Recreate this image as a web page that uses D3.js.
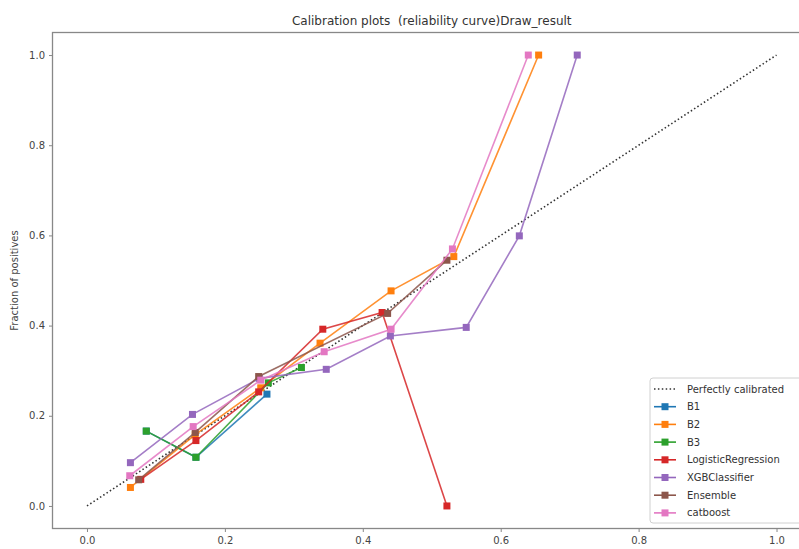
<!DOCTYPE html>
<html><head><meta charset="utf-8">
<script src="https://cdn.jsdelivr.net/npm/d3@7"></script>
<style>body{margin:0;background:#fff}svg{display:block;font-family:"DejaVu Sans",sans-serif}</style>
</head><body><svg id="c" width="799" height="549"></svg>
<script>
const title = "Calibration plots  (reliability curve)Draw_result";
const yLabel = "Fraction of positives";
const xTicks = [0.0, 0.2, 0.4, 0.6, 0.8, 1.0];
const yTicks = [0.0, 0.2, 0.4, 0.6, 0.8, 1.0];
const seriesNames = ["B1","B2","B3","LogisticRegression","XGBClassifier","Ensemble","catboost"];
const seriesColors = ["#1f77b4","#ff7f0e","#2ca02c","#d62728","#9467bd","#8c564b","#e377c2"];
const perfectX = [0, 1];
const perfectY = [0, 1];
const b1X = [0.086, 0.158, 0.261];
const b1Y = [0.166, 0.108, 0.248];
const b2X = [0.063, 0.157, 0.252, 0.338, 0.441, 0.532, 0.655];
const b2Y = [0.041, 0.158, 0.262, 0.361, 0.477, 0.553, 1.0];
const b3X = [0.086, 0.158, 0.263, 0.311];
const b3Y = [0.166, 0.108, 0.273, 0.307];
const lrX = [0.078, 0.158, 0.249, 0.342, 0.428, 0.522];
const lrY = [0.059, 0.145, 0.253, 0.392, 0.429, 0.0];
const xgbX = [0.063, 0.153, 0.250, 0.347, 0.440, 0.550, 0.627, 0.711];
const xgbY = [0.096, 0.203, 0.283, 0.303, 0.377, 0.396, 0.599, 1.0];
const ensX = [0.075, 0.157, 0.249, 0.436, 0.522];
const ensY = [0.058, 0.163, 0.287, 0.427, 0.545];
const catX = [0.062, 0.154, 0.252, 0.344, 0.441, 0.530, 0.640];
const catY = [0.067, 0.176, 0.279, 0.342, 0.392, 0.570, 1.0];
const allX = [b1X,b2X,b3X,lrX,xgbX,ensX,catX];
const allY = [b1Y,b2Y,b3Y,lrY,xgbY,ensY,catY];

const svg = d3.select("#c");
const L = 52.5, R = 811, T = 32.5, B = 528.5;
const x = d3.scaleLinear().domain([-0.05, 1.05]).range([L, R]);
const y = d3.scaleLinear().domain([-0.05, 1.05]).range([B, T]);
const txt = "#444", spine = "#888";

const line = d3.line().x(d=>x(d[0])).y(d=>y(d[1]));
svg.append("path").attr("d", line(d3.zip(perfectX, perfectY)))
  .attr("fill","none").attr("stroke","#333").attr("stroke-width",1.6)
  .attr("stroke-dasharray","1.5,2.4");

seriesNames.forEach((n,i)=>{
  const pts = d3.zip(allX[i], allY[i]);
  const g = svg.append("g");
  g.append("path").attr("d", line(pts)).attr("fill","none")
    .attr("stroke", seriesColors[i]).attr("stroke-width",1.6).attr("opacity",0.85);
  g.selectAll("rect").data(pts).join("rect")
    .attr("x", d=>x(d[0])-3.5).attr("y", d=>y(d[1])-3.5)
    .attr("width",7).attr("height",7).attr("fill", seriesColors[i]);
});

const xa = svg.append("g").attr("transform",`translate(0,${B})`)
  .call(d3.axisBottom(x).tickValues(xTicks).tickFormat(d3.format(".1f")).tickSize(3.5).tickSizeOuter(0));
const ya = svg.append("g").attr("transform",`translate(${L},0)`)
  .call(d3.axisLeft(y).tickValues(yTicks).tickFormat(d3.format(".1f")).tickSize(3.5).tickSizeOuter(0));
[xa,ya].forEach(a=>{
  a.select(".domain").remove();
  a.selectAll("line").attr("stroke", spine);
  a.selectAll("text").attr("fill", txt).style("font-size","10px").style("font-family","DejaVu Sans");
});
xa.selectAll("text").attr("dy","0.71em").attr("y",8);
ya.selectAll("text").attr("x",-7.5);
svg.append("rect").attr("x",L).attr("y",T).attr("width",R-L).attr("height",B-T)
  .attr("fill","none").attr("stroke",spine).attr("stroke-width",1.3);

svg.append("text").attr("x",(L+R)/2).attr("y",25).attr("text-anchor","middle")
  .attr("fill","#333").style("font-size","12px").style("white-space","pre").text(title);
svg.append("text").attr("transform",`translate(18,${(T+B)/2}) rotate(-90)`)
  .attr("text-anchor","middle").attr("fill",txt).style("font-size","10px").text(yLabel);

const lg = svg.append("g");
lg.append("rect").attr("x",650).attr("y",378).attr("width",170).attr("height",145)
  .attr("rx",3).attr("fill","#fff").attr("stroke","#ccc").attr("opacity",0.9);
const legNames = ["Perfectly calibrated"].concat(seriesNames);
legNames.forEach((n,i)=>{
  const yy = 389 + i*17.7;
  if(i===0){
    lg.append("line").attr("x1",654).attr("x2",676).attr("y1",yy).attr("y2",yy)
      .attr("stroke","#333").attr("stroke-width",1.6).attr("stroke-dasharray","1.5,2.4");
  } else {
    const c = seriesColors[i-1];
    lg.append("line").attr("x1",654).attr("x2",676).attr("y1",yy).attr("y2",yy)
      .attr("stroke",c).attr("stroke-width",1.6);
    lg.append("rect").attr("x",665-3.5).attr("y",yy-3.5).attr("width",7).attr("height",7).attr("fill",c);
  }
  lg.append("text").attr("x",687).attr("y",yy).attr("dy","0.35em").attr("fill","#333")
    .style("font-size","10px").text(n);
});
</script></body></html>
